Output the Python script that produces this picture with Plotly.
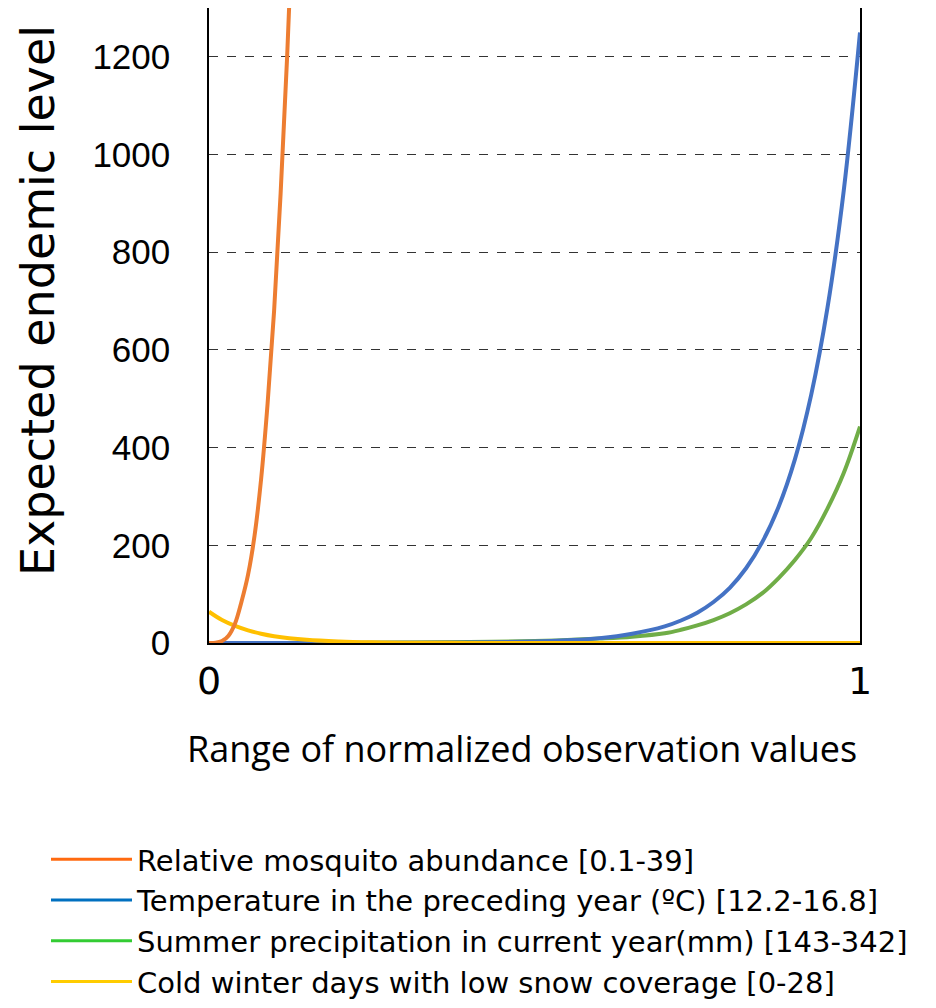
import plotly.graph_objects as go

# ---- data ----
orange_x = [0.0, 0.01, 0.02, 0.03, 0.04, 0.05, 0.06, 0.07, 0.08, 0.09, 0.10, 0.11, 0.12, 0.13]
orange_y = [0.0, 0.5, 4, 15, 40, 85, 140, 220, 335, 490, 680, 920, 1200, 1530]

yellow_x = [0.0, 0.02, 0.04, 0.06, 0.08, 0.10, 0.15, 0.20, 0.25, 0.30, 0.40, 0.50, 0.60, 0.70, 0.80, 0.90, 1.0]
yellow_y = [64, 47, 35, 26, 19, 14, 6.7, 3.2, 1.5, 0.7, 0.2, 0.05, 0.0, 0.0, 0.0, 0.0, 0.0]

bg_x = [0.0, 0.1, 0.2, 0.3, 0.4, 0.5, 0.55, 0.6, 0.65, 0.7, 0.725, 0.75, 0.775, 0.8, 0.825,
        0.85, 0.875, 0.9, 0.925, 0.95, 0.975, 1.0]
blue_y = [0.0, 0.0, 0.1, 0.3, 0.9, 3, 5.6, 10, 19, 34, 46, 62, 84, 113, 153,
          207, 279, 376, 508, 686, 926, 1250]
green_y = [0.0, 0.1, 0.3, 0.8, 1.8, 4, 6, 9, 13, 20, 27, 36, 47, 61, 79,
           102, 133, 170, 215, 275, 348, 443]

legend_names = [
    "Relative mosquito abundance [0.1-39]",
    "Temperature in the preceding year (\u00baC) [12.2-16.8]",
    "Summer precipitation in current year(mm) [143-342]",
    "Cold winter days with low snow coverage [0-28]",
]
line_colors = ["#ED7D31", "#4472C4", "#70AD47", "#FFC000"]
legend_colors = ["#FF6A10", "#0070C0", "#33CC33", "#FFCC00"]

y_ticks = [0, 200, 400, 600, 800, 1000, 1200]
x_ticks = [0, 1]

W, H = 920, 992  # page body adds an 8px margin

fig = go.Figure()

series = [(orange_x, orange_y), (bg_x, blue_y), (bg_x, green_y), (yellow_x, yellow_y)]
order = [2, 1, 3, 0]
for i in order:
    xs, ys = series[i]
    fig.add_trace(go.Scatter(x=xs, y=ys, mode="lines", showlegend=False,
                             line=dict(color=line_colors[i], width=4, shape="spline", smoothing=1.0),
                             hoverinfo="skip"))

for name, col in zip(legend_names, legend_colors):
    fig.add_trace(go.Scatter(x=[None], y=[None], mode="lines", name=name,
                             line=dict(color=col, width=3)))

fig.update_layout(
    width=W, height=H,
    margin=dict(l=201, r=W - 852, t=0, b=H - 635, autoexpand=False),
    paper_bgcolor="white", plot_bgcolor="white",
    xaxis=dict(range=[0, 1], tickvals=x_ticks, ticktext=[str(v) for v in x_ticks],
               showgrid=False, zeroline=False, showline=True, linecolor="#000000", linewidth=1.5,
               mirror=True, ticks="", ticklabelstandoff=4,
               tickfont=dict(family="DejaVu Sans", size=38, color="#000")),
    yaxis=dict(range=[0, 1300], tickvals=y_ticks, showgrid=True, gridcolor="#333333",
               griddash="dash", gridwidth=1, zeroline=False, showline=True,
               linecolor="#000000", linewidth=1.5, mirror=True, ticks="", ticklabelstandoff=30,
               tickfont=dict(family="Liberation Sans", size=35, color="#000")),
    legend=dict(xref="container", yref="container", x=38 / W, y=1 - 826 / H,
                xanchor="left", yanchor="top", itemwidth=81,
                font=dict(family="DejaVu Sans", size=29, color="#000"),
                bgcolor="rgba(0,0,0,0)", tracegroupgap=0),
    annotations=[
        dict(text="Expected endemic level", xref="paper", yref="paper",
             x=(30 - 201) / 651, y=(635 - 293) / 635, textangle=-90, showarrow=False,
             xanchor="center", yanchor="middle",
             font=dict(family="DejaVu Sans", size=46, color="#000")),
        dict(text="Range of normalized observation values", xref="paper", yref="paper",
             x=(514 - 201) / 651, y=(635 - 740) / 635, showarrow=False,
             xanchor="center", yanchor="middle",
             font=dict(family="Open Sans", size=36, color="#000")),
    ],
)

fig.write_html("out.html")
